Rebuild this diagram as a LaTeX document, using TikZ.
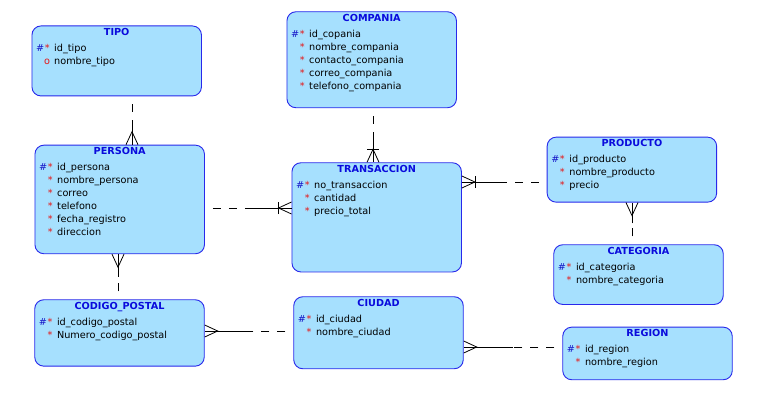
\documentclass[tikz,border=0pt]{standalone}
\usepackage{fontspec}
\setmainfont{DejaVu Sans}
\usetikzlibrary{calc}

\definecolor{entfill}{RGB}{166,224,254}
\definecolor{entdraw}{RGB}{40,40,235}
\definecolor{enttitle}{RGB}{10,10,220}
\definecolor{pkmark}{RGB}{20,20,200}
\definecolor{reqmark}{RGB}{230,20,20}

\tikzset{
  entity/.style={draw=entdraw, fill=entfill, line width=0.9pt, rounded corners=9pt,
    minimum width=169.5pt, inner sep=0pt, anchor=north west},
  etitle/.style={anchor=base, inner sep=0pt, text=enttitle,
    font=\fontsize{9.7}{13}\selectfont\bfseries},
  erows/.style={anchor=north west, align=left, inner sep=0pt,
    font=\fontsize{9.7}{13}\selectfont},
  rel/.style={draw=black, line width=0.8pt},
  optional/.style={rel, dash pattern=on 8pt off 8pt, dash phase=8pt},
}

% attribute rows: primary key, mandatory, optional
\newcommand\pkrow[1]{\rule{0pt}{8pt}\makebox[7pt]{\textcolor{pkmark}{\#}}\makebox[7pt]{\textcolor{reqmark}{*}}\hspace{3.5pt}#1}
\newcommand\reqrow[1]{\makebox[7pt]{}\makebox[7pt]{\textcolor{reqmark}{*}}\hspace{3.5pt}#1}
\newcommand\optrow[1]{\makebox[7pt]{}\makebox[7pt]{\textcolor{reqmark}{o}}\hspace{3.5pt}#1}

% entity box: name, left, top, height, title, rows
\newcommand\entity[6]{%
  \node[entity, minimum height=#4pt] (#1) at (#2,#3) {};
  \node[etitle] (#1-title) at ($(#1.north)+(0,9.75)$) {#5};
  \node[erows] (#1-rows) at ($(#1.north west)+(5,18)$) {#6};
}

% relationship: [bar], optional end, many end (crow's foot)
\newcommand\erlink[3][]{%
  \coordinate (rA) at (#2);
  \coordinate (rB) at (#3);
  \coordinate (rM) at ($(rA)!0.5!(rB)$);
  \coordinate (rP) at ($(rB)!13pt!(rA)$);
  \draw[optional] (rA) -- (rM);
  \draw[rel] (rM) -- (rB);
  \draw[rel] ($(rB)!6pt!90:(rA)$) -- (rP) -- ($(rB)!6pt!-90:(rA)$);
  #1
}
\newcommand\crossbar{\draw[rel] ($(rP)!6pt!90:(rA)$) -- ($(rP)!6pt!-90:(rA)$);}

\begin{document}
\begin{tikzpicture}[x=1pt, y=-1pt]
  \useasboundingbox (0,0) rectangle (759,409);
  \fill[white] (0,0) rectangle (759,409);

  \entity{tipo}{31.5}{25.5}{70}{TIPO}{%
    \pkrow{id\_tipo}\\ \optrow{nombre\_tipo}}
  \entity{compania}{286.5}{11.3}{96}{COMPANIA}{%
    \pkrow{id\_copania}\\ \reqrow{nombre\_compania}\\ \reqrow{contacto\_compania}\\
    \reqrow{correo\_compania}\\ \reqrow{telefono\_compania}}
  \entity{persona}{34.5}{144.7}{108.6}{PERSONA}{%
    \pkrow{id\_persona}\\ \reqrow{nombre\_persona}\\ \reqrow{correo}\\
    \reqrow{telefono}\\ \reqrow{fecha\_registro}\\ \reqrow{direccion}}
  \entity{transaccion}{291.5}{162.3}{109.2}{TRANSACCION}{%
    \pkrow{no\_transaccion}\\ \reqrow{cantidad}\\ \reqrow{precio\_total}}
  \entity{producto}{546.7}{136.7}{65}{PRODUCTO}{%
    \pkrow{id\_producto}\\ \reqrow{nombre\_producto}\\ \reqrow{precio}}
  \entity{categoria}{553.3}{244.3}{59.7}{CATEGORIA}{%
    \pkrow{id\_categoria}\\ \reqrow{nombre\_categoria}}
  \entity{codigo}{34.3}{299.3}{66.4}{CODIGO\_POSTAL}{%
    \pkrow{id\_codigo\_postal}\\ \reqrow{Numero\_codigo\_postal}}
  \entity{ciudad}{293.3}{296.3}{72}{CIUDAD}{%
    \pkrow{id\_ciudad}\\ \reqrow{nombre\_ciudad}}
  \entity{region}{562.3}{326.7}{52.6}{REGION}{%
    \pkrow{id\_region}\\ \reqrow{nombre\_region}}

  % guide positions of the relationship lines
  \coordinate (xtipo) at (132,0);
  \coordinate (xcomp) at (373,0);
  \coordinate (ypers) at (0,208);
  \coordinate (yprod) at (0,182);
  \coordinate (xcat)  at (632,0);
  \coordinate (xcod)  at (118,0);
  \coordinate (ycod)  at (0,331);
  \coordinate (yreg)  at (0,347);

  \erlink{tipo.south -| xtipo}{persona.north -| xtipo}
  \erlink[\crossbar]{compania.south -| xcomp}{transaccion.north -| xcomp}
  \erlink[\crossbar]{persona.east |- ypers}{transaccion.west |- ypers}
  \erlink[\crossbar]{producto.west |- yprod}{transaccion.east |- yprod}
  \erlink{categoria.north -| xcat}{producto.south -| xcat}
  \erlink{codigo.north -| xcod}{persona.south -| xcod}
  \erlink{ciudad.west |- ycod}{codigo.east |- ycod}
  \erlink{region.west |- yreg}{ciudad.east |- yreg}
\end{tikzpicture}
\end{document}
